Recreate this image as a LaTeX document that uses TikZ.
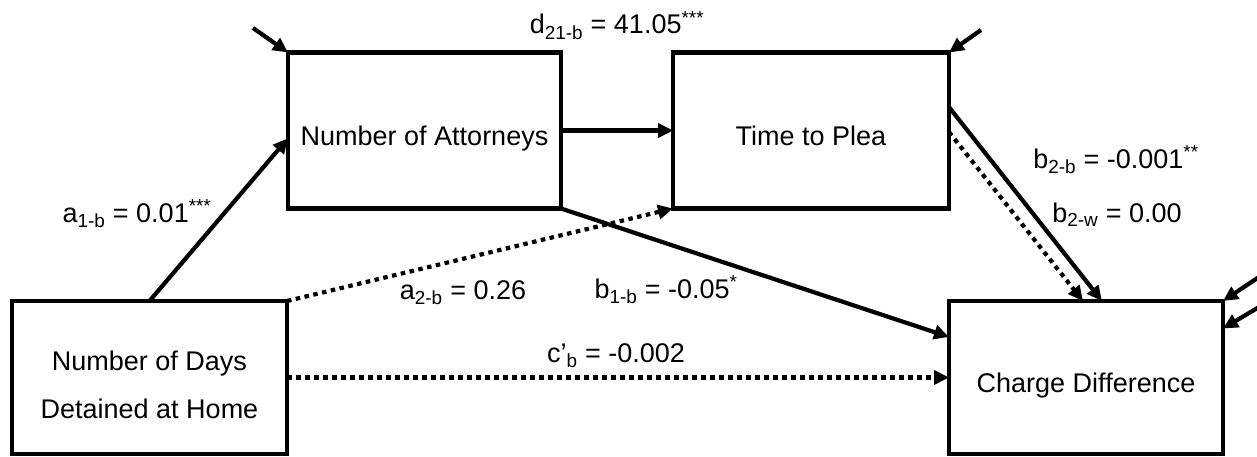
\documentclass[tikz,border=0pt]{standalone}
\usepackage{fontspec}
\setmainfont{Liberation Sans}
\usetikzlibrary{arrows.meta,calc}
\begin{document}
\begin{tikzpicture}[x=1pt,y=-1pt,
  font=\fontsize{27}{48}\selectfont,
  box/.style={draw,line width=4.2pt,inner sep=0pt,outer sep=0pt,align=center},
  onebox/.style={box,text height=30pt,text depth=0pt},
  conn/.style={line width=4.2pt,-{Triangle[length=15pt,width=14pt]}},
  dotconn/.style={conn,dash pattern=on 4.5pt off 4.5pt},
  lbl/.style={inner sep=0pt,anchor=base}]
\useasboundingbox (0,0) rectangle (1257,457);

% variables
\node[onebox,minimum width=273pt,minimum height=156pt] (att) at (424.5,130.5) {Number of Attorneys};
\node[onebox,minimum width=276pt,minimum height=156pt] (time) at (811,130.5) {Time to Plea};
\node[box,minimum width=275pt,minimum height=153pt] (days) at (149.5,377.5)
  {\raisebox{-7pt}[\height][\depth]{\begin{tabular}{@{}c@{}}Number of Days\\Detained at Home\end{tabular}}};
\node[onebox,minimum width=274pt,minimum height=153pt] (charge) at (1086,377.5) {Charge Difference};

% paths
\draw[conn] (days.north) -- ($(att.north west)!0.55!(att.south west)$);
\draw[conn] (att.east) -- (time.west);
\draw[dotconn] (days.north east) -- (time.south west);
\draw[conn] (att.south east) -- ($(charge.north west)!0.235!(charge.south west)$);
\draw[dotconn] (days.east) -- (charge.west);
\draw[conn] ($(time.north east)!0.35!(time.south east)$) -- ($(charge.north west)!0.558!(charge.north east)$);
\draw[dotconn] ($(time.north east)!0.51!(time.south east)$) -- ($(charge.north west)!0.489!(charge.north east)$);

% residual terms
\coordinate (e1) at (253,28);
\coordinate (e2) at (981,30);
\coordinate (e3) at (1259,277);
\coordinate (e4) at (1259,307);
\draw[conn] (e1) -- (att.north west);
\draw[conn] (e2) -- (time.north east);
\draw[conn] (e3) -- (charge.north east);
\draw[conn] (e4) -- ($(charge.north east)!0.18!(charge.south east)$);

% coefficients
\node[lbl] (ld) at (617,34) {d\textsubscript{21-b} = 41.05\textsuperscript{***}};
\node[lbl] (la1) at (137,222) {a\textsubscript{1-b} = 0.01\textsuperscript{***}};
\node[lbl] (la2) at (463,299) {a\textsubscript{2-b} = 0.26};
\node[lbl] (lb1) at (666,298) {b\textsubscript{1-b} = -0.05\textsuperscript{*}};
\node[lbl] (lc) at (616,362) {c’\textsubscript{b} = -0.002};
\node[lbl] (lb2b) at (1116,168) {b\textsubscript{2-b} = -0.001\textsuperscript{**}};
\node[lbl] (lb2w) at (1117,222) {b\textsubscript{2-w} = 0.00};
\end{tikzpicture}
\end{document}
